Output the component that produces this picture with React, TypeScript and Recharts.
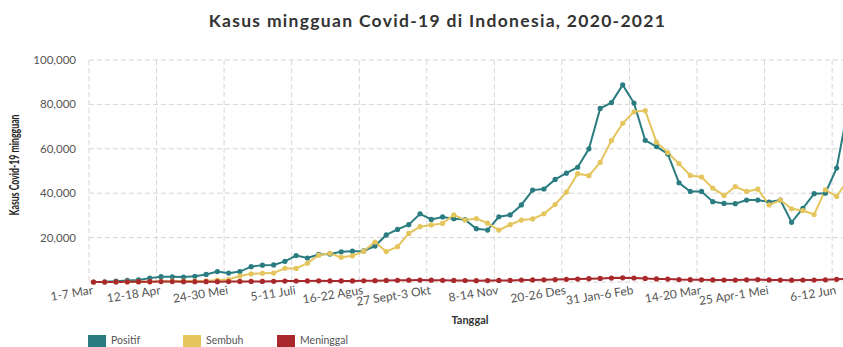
import React from "react";
import { LineChart, Line, XAxis, YAxis, CartesianGrid } from "recharts";

const categories = [
  "1-7 Mar", "8-14 Mar", "15-21 Mar", "22-28 Mar", "29 Mar-4 Apr", "5-11 Apr",
  "12-18 Apr", "19-25 Apr", "26 Apr-2 Mei", "3-9 Mei", "10-16 Mei", "17-23 Mei",
  "24-30 Mei", "31 Mei-6 Jun", "7-13 Jun", "14-20 Jun", "21-27 Jun", "28 Jun-4 Juli",
  "5-11 Juli", "12-18 Juli", "19-25 Juli", "26 Juli-1 Agus", "2-8 Agus", "9-15 Agus",
  "16-22 Agus", "23-29 Agus", "30 Agus-5 Sept", "6-12 Sept", "13-19 Sept", "20-26 Sept",
  "27 Sept-3 Okt", "4-10 Okt", "11-17 Okt", "18-24 Okt", "25-31 Okt", "1-7 Nov",
  "8-14 Nov", "15-21 Nov", "22-28 Nov", "29 Nov-5 Des", "6-12 Des", "13-19 Des",
  "20-26 Des", "27 Des-2 Jan", "3-9 Jan", "10-16 Jan", "17-23 Jan", "24-30 Jan",
  "31 Jan-6 Feb", "7-13 Feb", "14-20 Feb", "21-27 Feb", "28 Feb-6 Mar", "7-13 Mar",
  "14-20 Mar", "21-27 Mar", "28 Mar-3 Apr", "4-10 Apr", "11-17 Apr", "18-24 Apr",
  "25 Apr-1 Mei", "2-8 Mei", "9-15 Mei", "16-22 Mei", "23-29 Mei", "30 Mei-5 Jun",
  "6-12 Jun", "13-19 Jun",
];

const positif = [
  4, 90, 350, 700, 940, 1750, 2400, 2360, 2240, 2600, 3400, 4700,
  4000, 4700, 6900, 7600, 7700, 9300, 11900, 10800, 12400, 12600, 13600, 13900,
  14000, 16200, 21200, 23700, 25800, 30700, 28200, 29300, 28500, 28100, 24000, 23400,
  29400, 30200, 34700, 41400, 41900, 46200, 49000, 51700, 60000, 78200, 80800, 88800,
  80600, 63800, 61000, 57700, 44700, 40800, 40800, 36200, 35400, 35300, 36900, 36900,
  36000, 36900, 26900, 33200, 39800, 40000, 51300, 78000,
];

const sembuh = [
  0, 0, 10, 30, 60, 100, 250, 350, 400, 450, 500, 900,
  1100, 2700, 3700, 3900, 4000, 6200, 6100, 8500, 12100, 12900, 11100, 11800,
  13900, 18000, 13700, 15900, 21900, 24900, 25700, 26400, 30200, 27900, 28600, 26500,
  23400, 25800, 27900, 28400, 30700, 34900, 40500, 48800, 47900, 53900, 63700, 71500,
  76700, 77200, 63000, 58300, 53300, 48000, 47300, 42300, 39000, 43000, 40800, 41800,
  34700, 36900, 33000, 32200, 30400, 41500, 38500, 46000,
];

const meninggal = [
  0, 5, 40, 90, 130, 160, 190, 180, 150, 150, 130, 150,
  170, 250, 260, 280, 300, 400, 450, 480, 520, 480, 480, 500,
  560, 600, 700, 750, 800, 850, 800, 760, 700, 680, 600, 630,
  700, 720, 900, 950, 1000, 1100, 1200, 1300, 1500, 1600, 1750, 1900,
  1800, 1600, 1400, 1300, 1100, 1050, 1000, 950, 900, 850, 1000, 1100,
  950, 850, 800, 900, 900, 1000, 1200, 1400,
];

const seriesNames = ["Positif", "Sembuh", "Meninggal"];
const seriesKeys = ["positif", "sembuh", "meninggal"];
const seriesColors = ["#2b7c80", "#e5c55e", "#a8282b"];
const yTicks = [0, 20000, 40000, 60000, 80000, 100000];
const xTickIndex = [0, 6, 12, 18, 24, 30, 36, 42, 48, 54, 60, 66];

const data = categories.map((week, i) => ({
  idx: i,
  week,
  positif: positif[i],
  sembuh: sembuh[i],
  meninggal: meninggal[i],
}));

const GRID_SHIFT = 0.4;
const gridTicks = xTickIndex.map((t) => t - GRID_SHIFT);
const xDomain = [-GRID_SHIFT, categories.length - 1 + GRID_SHIFT];

const FONT = "Lato, 'Open Sans', sans-serif";

const XTick = (props: any) => {
  const { x, y, payload } = props;
  const label = categories[Math.round(payload.value)];
  const ty = y - 18;
  return (
    <text
      x={x}
      y={ty}
      textAnchor="end"
      transform={`rotate(-9, ${x}, ${ty})`}
      fontSize={12}
      fill="#555"
      fontFamily={FONT}
    >
      {label}
    </text>
  );
};

const YTick = (props: any) => {
  const { x, y, payload } = props;
  const v = payload.value;
  return (
    <text x={x} y={y} dy={4} textAnchor="end" fontSize={11.5} fill="#555" fontFamily={FONT}>
      {v === 0 ? "" : v.toLocaleString("en-US")}
    </text>
  );
};

const YLabel = (props: any) => {
  const vb = props.viewBox || { x: 0, y: 60, width: 89, height: 222 };
  const cx = vb.x + 19;
  const cy = vb.y + vb.height / 2 - 6;
  return (
    <text
      x={cx}
      y={cy}
      textAnchor="middle"
      transform={`rotate(-90, ${cx}, ${cy})`}
      fontSize={13.5}
      fontWeight={700}
      fill="#222"
      fontFamily={FONT}
      textLength={101}
      lengthAdjust="spacingAndGlyphs"
    >
      Kasus Covid-19 mingguan
    </text>
  );
};

export default function App() {
  return (
    <div
      style={{
        position: "absolute",
        left: 0,
        top: 0,
        width: 843,
        height: 347,
        overflow: "hidden",
        background: "#fff",
        fontFamily: FONT,
      }}
    >
      <div
        style={{
          position: "absolute",
          left: 0,
          top: 10,
          width: 875,
          textAlign: "center",
          fontSize: 17.5,
          letterSpacing: 1.3,
          fontWeight: 700,
          color: "#333",
          whiteSpace: "nowrap",
        }}
      >
        Kasus mingguan Covid-19 di Indonesia, 2020-2021
      </div>
      <div style={{ position: "absolute", left: 0, top: 0 }}>
        <LineChart
          width={870}
          height={347}
          data={data}
          margin={{ top: 60, right: 17.6, left: 0, bottom: 35 }}
        >
          <CartesianGrid
            xAxisId="grid"
            yAxisId="main"
            stroke="#d6d6d6"
            strokeDasharray="5 3"
          />
          <XAxis
            xAxisId="grid"
            dataKey="idx"
            type="number"
            domain={xDomain}
            ticks={gridTicks}
            hide
          />
          <XAxis
            xAxisId="main"
            dataKey="idx"
            type="number"
            domain={xDomain}
            ticks={xTickIndex}
            interval={0}
            axisLine={false}
            tickLine={false}
            tickSize={0}
            tickMargin={0}
            height={30}
            tick={<XTick />}
          />
          <YAxis
            yAxisId="main"
            width={89}
            domain={[0, 100000]}
            ticks={yTicks}
            axisLine={false}
            tickLine={false}
            tickSize={0}
            tickMargin={13}
            tick={<YTick />}
            label={{ content: <YLabel /> }}
          />
          {seriesKeys.map((k, i) => (
            <Line
              key={k}
              xAxisId="main"
              yAxisId="main"
              type="linear"
              dataKey={k}
              name={seriesNames[i]}
              stroke={seriesColors[i]}
              strokeWidth={2}
              dot={{ r: 2.6, fill: seriesColors[i], stroke: seriesColors[i], strokeWidth: 0 }}
              isAnimationActive={false}
            />
          ))}
        </LineChart>
      </div>
      <div
        style={{
          position: "absolute",
          left: 370,
          top: 313,
          width: 200,
          textAlign: "center",
          fontSize: 11,
          fontWeight: 700,
          color: "#333",
        }}
      >
        Tanggal
      </div>
      {seriesNames.map((n, i) => (
        <div
          key={n}
          style={{
            position: "absolute",
            left: [88, 183, 277][i],
            top: 334,
            display: "flex",
            alignItems: "flex-start",
            fontSize: 10.5,
            color: "#555",
            lineHeight: "12px",
          }}
        >
          <div style={{ width: 18, height: 14, marginTop: 1, background: seriesColors[i], marginRight: 5 }} />
          <span>{n}</span>
        </div>
      ))}
    </div>
  );
}
